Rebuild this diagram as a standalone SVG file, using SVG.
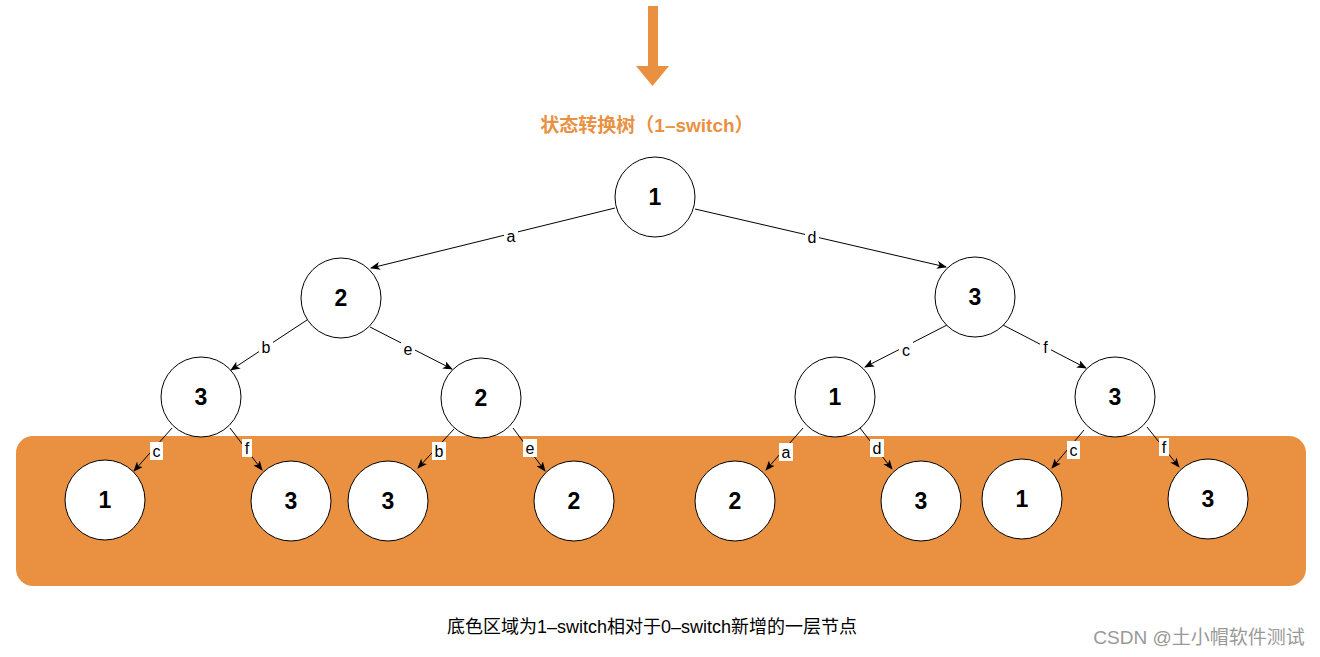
<svg xmlns="http://www.w3.org/2000/svg" width="1320" height="657" viewBox="0 0 1320 657">
<style>
.node circle{fill:#fff;stroke:#000;stroke-width:1}
.node text{font-family:"Liberation Sans",Arial,sans-serif;font-size:23px;font-weight:bold;text-anchor:middle;fill:#000}
.edge line{stroke:#000;stroke-width:1;marker-end:url(#ah)}
.lbl rect{fill:#fff}
.lbl text{font-family:"Liberation Sans",Arial,sans-serif;font-size:16px;text-anchor:middle;fill:#000}
</style>
<defs>
<marker id="ah" viewBox="0 0 10 8" refX="9" refY="4" markerWidth="10" markerHeight="8" markerUnits="userSpaceOnUse" orient="auto">
<path d="M0,0 L10,4 L0,8 L2.5,4 Z" fill="#000"/>
</marker>
</defs>
<rect width="1320" height="657" fill="#fff"/>
<rect id="band" x="16" y="436" width="1290" height="150" rx="17" fill="#E99141"/>
<g id="topArrow" fill="#E99141">
<rect x="648" y="6" width="10" height="61"/>
<polygon points="636,66 669,66 652.5,86"/>
</g>
<text x="647" y="132" font-family="'Liberation Sans','Noto Sans CJK SC',sans-serif" font-size="19" font-weight="bold" fill="#E99141" text-anchor="middle">状态转换树（1–switch）</text>

<g id="connectors">
<g class="edge">
<line x1="615" y1="208" x2="371" y2="268"/>
<line x1="695" y1="209" x2="946" y2="267"/>
<line x1="307" y1="320" x2="231" y2="370"/>
<line x1="370" y1="327" x2="452" y2="369"/>
<line x1="947" y1="325" x2="865" y2="367"/>
<line x1="1003" y1="325" x2="1086" y2="368"/>
<line x1="172" y1="428" x2="134" y2="471"/>
<line x1="230" y1="428" x2="262" y2="470"/>
<line x1="454" y1="429" x2="418" y2="468"/>
<line x1="513" y1="428" x2="545" y2="471"/>
<line x1="803" y1="428" x2="766" y2="470"/>
<line x1="860" y1="428" x2="892" y2="469"/>
<line x1="1084" y1="430" x2="1052" y2="468"/>
<line x1="1147" y1="427" x2="1179" y2="467"/>
</g>
<g class="lbl">
<rect x="504" y="227" width="14" height="18"/><text x="511" y="242">a</text>
<rect x="805" y="228" width="14" height="18"/><text x="812" y="243">d</text>
<rect x="259" y="338" width="14" height="18"/><text x="266" y="353">b</text>
<rect x="401" y="340" width="14" height="18"/><text x="408" y="355">e</text>
<rect x="899" y="341" width="14" height="18"/><text x="906" y="356">c</text>
<rect x="1040" y="338" width="11" height="18"/><text x="1045.5" y="353">f</text>
<rect x="150" y="442" width="13" height="18"/><text x="156.5" y="457">c</text>
<rect x="242" y="439" width="10" height="18"/><text x="247" y="454">f</text>
<rect x="432" y="442" width="14" height="18"/><text x="439" y="457">b</text>
<rect x="523" y="439" width="14" height="18"/><text x="530" y="454">e</text>
<rect x="779" y="443" width="14" height="18"/><text x="786" y="458">a</text>
<rect x="870" y="439" width="14" height="18"/><text x="877" y="454">d</text>
<rect x="1067" y="441" width="13" height="18"/><text x="1073.5" y="456">c</text>
<rect x="1159" y="438" width="10" height="18"/><text x="1164" y="453">f</text>
</g>
</g>

<g id="n0" class="node"><circle cx="655" cy="197" r="40"/><text x="655" y="205">1</text></g>
<g id="n1" class="node"><circle cx="341" cy="298" r="40"/><text x="341" y="306">2</text></g>
<g id="n2" class="node"><circle cx="975" cy="297" r="40"/><text x="975" y="305">3</text></g>
<g id="n3" class="node"><circle cx="201" cy="397" r="40"/><text x="201" y="405">3</text></g>
<g id="n4" class="node"><circle cx="481" cy="398" r="40"/><text x="481" y="406">2</text></g>
<g id="n5" class="node"><circle cx="835" cy="397" r="40"/><text x="835" y="405">1</text></g>
<g id="n6" class="node"><circle cx="1115" cy="397" r="40"/><text x="1115" y="405">3</text></g>
<g id="n7" class="node"><circle cx="105" cy="500" r="40"/><text x="105" y="508">1</text></g>
<g id="n8" class="node"><circle cx="291" cy="501" r="40"/><text x="291" y="509">3</text></g>
<g id="n9" class="node"><circle cx="388" cy="501" r="40"/><text x="388" y="509">3</text></g>
<g id="n10" class="node"><circle cx="574" cy="501" r="40"/><text x="574" y="509">2</text></g>
<g id="n11" class="node"><circle cx="735" cy="501" r="40"/><text x="735" y="509">2</text></g>
<g id="n12" class="node"><circle cx="921" cy="501" r="40"/><text x="921" y="509">3</text></g>
<g id="n13" class="node"><circle cx="1022" cy="499" r="40"/><text x="1022" y="507">1</text></g>
<g id="n14" class="node"><circle cx="1208" cy="499" r="40"/><text x="1208" y="507">3</text></g>

<text x="652" y="633" font-family="'Liberation Sans','Noto Sans CJK SC',sans-serif" font-size="18" fill="#000" text-anchor="middle">底色区域为1–switch相对于0–switch新增的一层节点</text>
<text x="1199" y="644" font-family="'Liberation Sans','Noto Sans CJK SC',sans-serif" font-size="19" fill="#999" text-anchor="middle">CSDN @土小帽软件测试</text>
</svg>
